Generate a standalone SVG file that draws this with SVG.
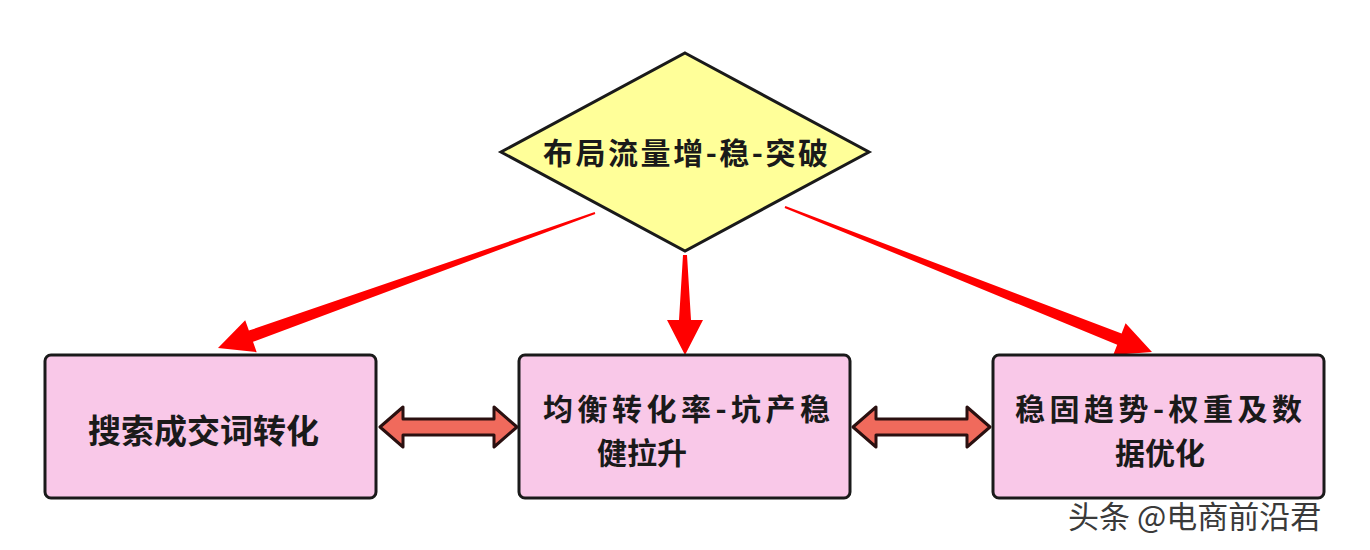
<svg xmlns="http://www.w3.org/2000/svg" width="1370" height="550" viewBox="0 0 1370 550">
<defs><style>
.box{fill:#f9c8e8;stroke:#1a1a1a;stroke-width:3}
.t{font-family:"Noto Sans CJK SC",sans-serif;font-size:30px;font-weight:bold;fill:#1a1a1a}
.red{fill:#ff0000}
.dbl{fill:#f06a5c;stroke:#2a1010;stroke-width:3;stroke-linejoin:round}
</style></defs>
<rect width="1370" height="550" fill="#fff"/>
<g id="connectors">
<polygon class="red" points="595.3,213.9 253,341.8 256.7,352.2 218,348 245.2,320.2 248.9,330.6 594.7,212.1"/>
<polygon class="red" points="683,255 679,320 667,320 685,355 703,320 691,320 687,255"/>
<polygon class="red" points="784.6,207.9 1117.2,344.7 1113.2,354.9 1152,352 1125.6,323.3 1121.6,333.5 785.4,206.1"/>
<polygon class="dbl" points="380,427 403,407 403,419 494,419 494,407 517,427 494,447 494,435 403,435 403,447"/>
<polygon class="dbl" points="853,427 876,407 876,419 967,419 967,407 990,427 967,447 967,435 876,435 876,447"/>
</g>
<g id="top"><polygon points="685,53 869,152 685,251 501,152" fill="#ffff99" stroke="#1a1a1a" stroke-width="3"/>
<text class="t" x="543" y="164" textLength="285">布局流量增-稳-突破</text></g>
<g id="n1"><rect class="box" x="45" y="355" width="331" height="143" rx="6"/><text class="t" x="88" y="443" font-size="33" style="font-size:33px">搜索成交词转化</text></g>
<g id="n2"><rect class="box" x="519" y="355" width="331" height="143" rx="6"/><text class="t" x="543" y="420" textLength="287">均衡转化率-坑产稳</text><text class="t" x="597" y="464">健拉升</text></g>
<g id="n3"><rect class="box" x="993" y="355" width="331" height="143" rx="6"/><text class="t" x="1015" y="420" textLength="287">稳固趋势-权重及数</text><text class="t" x="1115" y="464">据优化</text></g>
<text x="1068" y="528" font-family="Noto Sans CJK SC,sans-serif" font-size="31" fill="#3a3a3a">头条 @电商前沿君</text>
</svg>
